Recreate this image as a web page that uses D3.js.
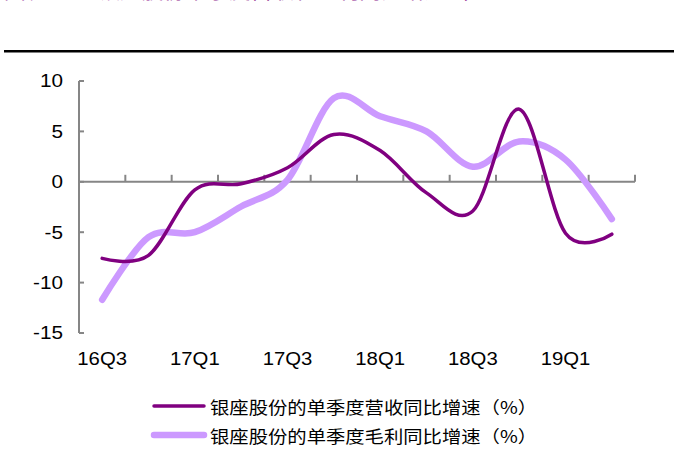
<!DOCTYPE html>
<html><head><meta charset="utf-8">
<script src="https://cdn.jsdelivr.net/npm/d3@7"></script>
<style>body{margin:0;background:#fff}svg{display:block}</style>
</head><body>
<svg id="c" width="674" height="450"></svg>
<script>
const categories = ["16Q3","16Q4","17Q1","17Q2","17Q3","17Q4","18Q1","18Q2","18Q3","18Q4","19Q1","19Q2"];
const revenueGrowth = [-7.6,-7.3,-0.8,-0.2,1.4,4.7,3.1,-1.1,-2.9,7.2,-5.1,-5.2];
const grossProfitGrowth = [-11.7,-5.5,-5.0,-2.45,0.2,8.3,6.5,5.0,1.5,4.0,2.2,-3.7];
const yTicks = [10,5,0,-5,-10,-15];
const xLabels = ["16Q3","17Q1","17Q3","18Q1","18Q3","19Q1"];
const seriesNames = ["银座股份的单季度营收同比增速（%）","银座股份的单季度毛利同比增速（%）"];
const titleText = "图表 26：银座股份单季度营收和毛利同比增速（";

const svg = d3.select("#c");
const x = d3.scaleBand().domain(categories).range([79,635]);
const y = d3.scaleLinear().domain([-15,10]).range([333,81]);
const cx = d => x(d) + x.bandwidth()/2;

// cut-off title (only its lowest strokes show, as in the reference)
svg.append("text").attr("x",4).attr("y",-2)
  .attr("font-family","'Noto Sans CJK SC'").attr("font-size",22)
  .attr("fill","#8b1a8b").attr("textLength",464).attr("lengthAdjust","spacingAndGlyphs")
  .text(titleText);
svg.append("rect").attr("x",4).attr("y",50).attr("width",670).attr("height",2.5).attr("fill","#000");

const axisColor = "#868686";
// y axis
svg.append("line").attr("x1",79).attr("x2",79).attr("y1",y(10)).attr("y2",y(-15))
  .attr("stroke",axisColor).attr("stroke-width",2);
yTicks.forEach(t=>{
  svg.append("line").attr("x1",79).attr("x2",84).attr("y1",y(t)).attr("y2",y(t))
    .attr("stroke",axisColor).attr("stroke-width",2);
  svg.append("text").attr("transform",`translate(63,${y(t)}) scale(1.15,1)`)
    .attr("text-anchor","end").attr("dominant-baseline","central")
    .attr("font-family","'Liberation Sans',Arial").attr("font-size",18).attr("fill","#000")
    .text(t);
});
// x axis at 0
svg.append("line").attr("x1",79).attr("x2",635).attr("y1",y(0)).attr("y2",y(0))
  .attr("stroke",axisColor).attr("stroke-width",2);
categories.concat(["end"]).forEach((c,i)=>{
  const xx = i<categories.length ? x(c) : x.range()[1];
  if(i===0) return;
  svg.append("line").attr("x1",xx).attr("x2",xx).attr("y1",y(0)).attr("y2",y(0)-7)
    .attr("stroke",axisColor).attr("stroke-width",2);
});
xLabels.forEach(l=>{
  svg.append("text").attr("transform",`translate(${cx(l)},365) scale(1.13,1)`)
    .attr("text-anchor","middle")
    .attr("font-family","'Liberation Sans',Arial").attr("font-size",18).attr("fill","#000")
    .text(l);
});

const line = d3.line().x((d,i)=>cx(categories[i])).y(d=>y(d)).curve(d3.curveCardinal.tension(0));
const colors = ["#800080","#cc99ff"];
const widths = [3.5,6.5];
svg.append("path").datum(grossProfitGrowth).attr("d",line).attr("fill","none")
  .attr("stroke",colors[1]).attr("stroke-width",widths[1]).attr("stroke-linecap","round");
svg.append("path").datum(revenueGrowth).attr("d",line).attr("fill","none")
  .attr("stroke",colors[0]).attr("stroke-width",widths[0]).attr("stroke-linecap","round");

// legend
[406,435].forEach((ly,i)=>{
  svg.append("line").attr("x1",154).attr("x2",204).attr("y1",ly).attr("y2",ly)
    .attr("stroke",colors[i]).attr("stroke-width",widths[i]).attr("stroke-linecap","round");
  svg.append("text").attr("x",210).attr("y",ly).attr("dominant-baseline","central")
    .attr("font-family","'Noto Sans CJK SC'").attr("font-size",17).attr("fill","#000")
    .attr("textLength",327).attr("lengthAdjust","spacingAndGlyphs")
    .text(seriesNames[i]);
});
</script>
</body></html>
